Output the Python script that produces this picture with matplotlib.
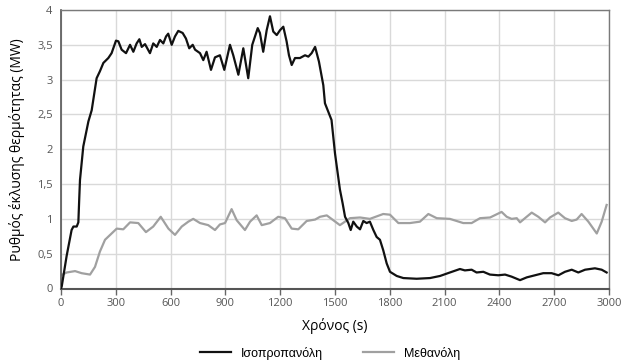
import numpy as np
import matplotlib.pyplot as plt
from matplotlib.ticker import FuncFormatter

# Ισοπροπανόλη (t σε s, ρυθμός σε MW)
t_iso = [0, 4, 31, 58, 68, 86, 95, 100, 104, 122, 150, 168, 195, 213, 232,
         259, 277, 301, 314, 332, 356, 378, 396, 414, 429, 442, 460, 487,
         505, 524, 542, 560, 575, 587, 606, 624, 642, 666, 684, 702, 721,
         734, 761, 779, 797, 821, 843, 870, 894, 925, 943, 971, 998, 1025,
         1047, 1077, 1089, 1107, 1126, 1144, 1162, 1181, 1199, 1217, 1235,
         1248, 1263, 1281, 1308, 1336, 1354, 1372, 1391, 1412, 1436, 1445,
         1481, 1500, 1527, 1542, 1555, 1573, 1586, 1600, 1619, 1637, 1655,
         1673, 1691, 1710, 1728, 1746, 1764, 1783, 1801, 1838, 1874, 1947,
         2020, 2075, 2129, 2184, 2211, 2248, 2275, 2312, 2348, 2394, 2431,
         2467, 2513, 2550, 2595, 2640, 2686, 2723, 2759, 2796, 2832, 2869,
         2923, 2960, 2987]
q_iso = [0.0, 0.03, 0.47, 0.84, 0.89, 0.89, 0.95, 1.30, 1.56, 2.04, 2.40,
         2.56, 3.02, 3.12, 3.24, 3.31, 3.38, 3.56, 3.55, 3.43, 3.38, 3.50,
         3.40, 3.52, 3.58, 3.47, 3.51, 3.38, 3.52, 3.47, 3.57, 3.52, 3.62,
         3.66, 3.50, 3.62, 3.70, 3.67, 3.59, 3.45, 3.50, 3.43, 3.38, 3.28,
         3.40, 3.14, 3.32, 3.35, 3.14, 3.50, 3.35, 3.07, 3.45, 3.02, 3.50,
         3.74, 3.67, 3.40, 3.71, 3.91, 3.69, 3.64, 3.71, 3.76, 3.55, 3.35,
         3.21, 3.31, 3.31, 3.35, 3.33, 3.38, 3.47, 3.26, 2.92, 2.66, 2.42,
         1.94, 1.42, 1.22, 1.03, 0.94, 0.84, 0.96, 0.89, 0.85, 0.97, 0.94,
         0.96, 0.84, 0.74, 0.70, 0.55, 0.36, 0.24, 0.18, 0.15, 0.14, 0.15,
         0.18, 0.23, 0.28, 0.26, 0.27, 0.23, 0.24, 0.20, 0.19, 0.20, 0.17,
         0.12, 0.16, 0.19, 0.22, 0.22, 0.19, 0.24, 0.27, 0.23, 0.27, 0.29,
         0.27, 0.23]

# Μεθανόλη
t_meth = [0, 31, 77, 113, 159, 186, 213, 241, 277, 305, 341, 378, 423, 465,
          505, 546, 588, 624, 661, 697, 724, 761, 806, 843, 870, 898, 934,
          962, 1007, 1035, 1071, 1099, 1144, 1189, 1226, 1263, 1299, 1345,
          1391, 1418, 1455, 1491, 1527, 1582, 1637, 1691, 1764, 1801, 1847,
          1910, 1965, 2011, 2057, 2129, 2202, 2248, 2294, 2349, 2412, 2440,
          2467, 2495, 2513, 2540, 2577, 2613, 2650, 2677, 2722, 2759, 2796,
          2823, 2850, 2887, 2933, 2960, 2987]
q_meth = [0.19, 0.23, 0.25, 0.22, 0.20, 0.31, 0.53, 0.70, 0.79, 0.86, 0.85,
          0.95, 0.94, 0.81, 0.89, 1.03, 0.86, 0.77, 0.89, 0.96, 1.00, 0.94,
          0.91, 0.84, 0.92, 0.94, 1.14, 0.98, 0.84, 0.96, 1.05, 0.91, 0.94,
          1.03, 1.01, 0.86, 0.85, 0.97, 0.99, 1.03, 1.05, 0.98, 0.91, 1.01,
          1.02, 1.00, 1.07, 1.06, 0.94, 0.94, 0.96, 1.07, 1.01, 1.00, 0.94,
          0.94, 1.01, 1.02, 1.10, 1.03, 1.00, 1.01, 0.95, 1.01, 1.09, 1.03,
          0.95, 1.02, 1.09, 1.01, 0.97, 0.99, 1.07, 0.96, 0.79, 0.96, 1.20]

x_ticks = list(range(0, 3001, 300))
y_ticks = [0, 0.5, 1, 1.5, 2, 2.5, 3, 3.5, 4]

plt.rcParams["font.family"] = ["Open Sans", "DejaVu Sans"]

fig = plt.figure(figsize=(6.22, 3.62), dpi=100)
ax = fig.add_axes([61 / 622, 73.5 / 362, 548 / 622, 278.5 / 362])

ax.plot(t_iso, q_iso, color="#111111", lw=1.6, label="Ισοπροπανόλη", zorder=3)
ax.plot(t_meth, q_meth, color="#a0a0a0", lw=1.6, label="Μεθανόλη", zorder=2)

ax.set_xlim(0, 3000)
ax.set_ylim(0, 4)
ax.set_xticks(x_ticks)
ax.set_yticks(y_ticks)
ax.yaxis.set_major_formatter(
    FuncFormatter(lambda v, _: f"{v:g}".replace(".", ",")))
ax.grid(True, color="#d9d9d9", lw=1)
ax.set_axisbelow(True)

for side in ["top", "right"]:
    ax.spines[side].set_color("#7a7a7a")
    ax.spines[side].set_linewidth(1.0)
ax.spines["left"].set_color("#555555")
ax.spines["bottom"].set_color("#555555")
ax.spines["left"].set_linewidth(1.2)
ax.spines["bottom"].set_linewidth(1.5)

ax.tick_params(axis="x", length=4, width=1, color="#666666",
               labelsize=8, labelcolor="#555555", pad=3)
ax.tick_params(axis="y", length=0, labelsize=8, labelcolor="#555555", pad=6)

ax.set_xlabel("Χρόνος (s)", fontsize=10, labelpad=6)
ax.set_ylabel("Ρυθμός έκλυσης θερμότητας (MW)", fontsize=10, labelpad=9)

fig.legend(loc="center", bbox_to_anchor=(330 / 622, 1 - 353 / 362), ncol=2,
           frameon=False, handlelength=2.5, columnspacing=3.2,
           prop={"family": "Liberation Sans", "size": 9})

fig.savefig("out.png", dpi=100)
